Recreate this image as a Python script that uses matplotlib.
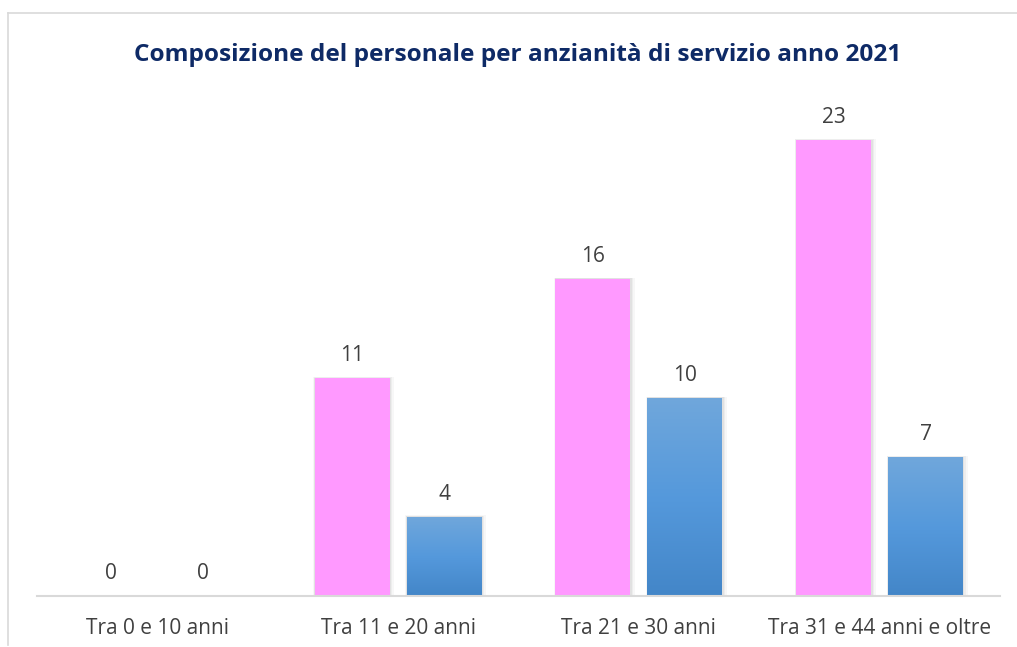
import numpy as np
import matplotlib
matplotlib.use("Agg")
import matplotlib.pyplot as plt
from matplotlib.lines import Line2D
from matplotlib.patches import Rectangle
from matplotlib.colors import LinearSegmentedColormap

# data
categories = ["Tra 0 e 10 anni", "Tra 11 e 20 anni", "Tra 21 e 30 anni", "Tra 31 e 44 anni e oltre"]
pink_vals = [0, 11, 16, 23]
blue_vals = [0, 4, 10, 7]
title = "Composizione del personale per anzianità di servizio anno 2021"

plt.rcParams["font.family"] = ["Open Sans", "DejaVu Sans"]

W, H = 1017, 647
fig = plt.figure(figsize=(W / 100, H / 100), dpi=100)
fig.patch.set_facecolor("white")

# chart frame (left + top edge only visible)
fig.add_artist(Line2D([8 / W, 8 / W], [1 - 13 / H, 1 - 645 / H], color="#d9d9d9", lw=1.2))
fig.add_artist(Line2D([8 / W, 1.0], [1 - 13 / H, 1 - 13 / H], color="#d9d9d9", lw=1.2))

ax = fig.add_axes([37 / W, 51 / H, 963 / W, 495.7 / H])
ax.set_xlim(-0.5, len(categories) - 0.5)
ax.set_ylim(0, 25)

x = np.arange(len(categories))
bw = 0.311
off = 0.191

blue_cmap = LinearSegmentedColormap.from_list("blu", ["#4386c8", "#5599dc", "#70a7db"])
grad = np.linspace(0, 1, 256).reshape(-1, 1)

for i in range(len(categories)):
    for v, dx, kind in [(pink_vals[i], -off, "p"), (blue_vals[i], off, "b")]:
        x0 = x[i] + dx - bw / 2
        if v > 0:
            # soft shadow
            for k, a in [(0.02, 0.06), (0.012, 0.08), (0.006, 0.10)]:
                ax.add_patch(Rectangle((x0 - k * 0.3, 0), bw + k * 1.3, v + k * 3,
                                       facecolor="#808080", alpha=a, lw=0, zorder=1))
            if kind == "p":
                ax.bar(x[i] + dx, v, width=bw, color="#ff99ff", zorder=2)
            else:
                r = Rectangle((x0, 0), bw, v, facecolor="none", lw=0, zorder=2)
                ax.add_patch(r)
                im = ax.imshow(grad, extent=(x0, x0 + bw, 0, v), origin="lower",
                               cmap=blue_cmap, aspect="auto", zorder=2)
                im.set_clip_path(r)
        ax.text(x[i] + dx, v + 0.6, str(v), ha="center", va="bottom",
                fontsize=15, color="#404040", zorder=3)

ax.set_xlim(-0.5, len(categories) - 0.5)
ax.set_ylim(0, 25)
ax.set_xticks(x)
ax.set_xticklabels(categories, fontsize=15, color="#404040")
ax.tick_params(axis="x", length=0, pad=16)
ax.set_yticks([])
for s in ["top", "right", "left"]:
    ax.spines[s].set_visible(False)
ax.spines["bottom"].set_color("#d9d9d9")
ax.spines["bottom"].set_linewidth(1.5)
ax.spines["bottom"].set_zorder(4)

fig.text(518 / W, 1 - 55 / H, title, ha="center", va="center",
         fontsize=17.6, fontweight="bold", color="#0e2a66")

fig.savefig("out.png", dpi=100)
